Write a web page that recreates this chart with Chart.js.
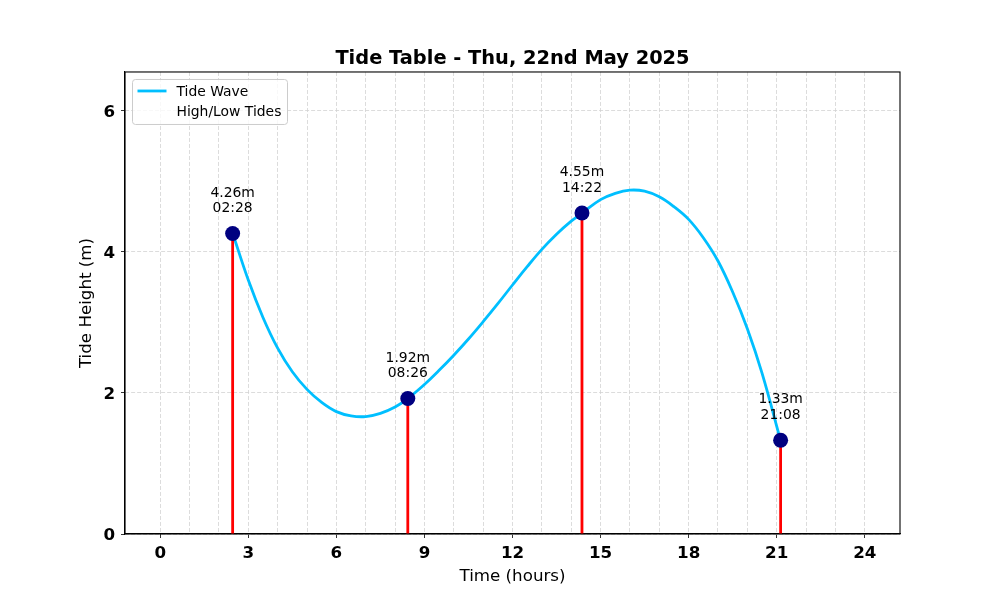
<!DOCTYPE html>
<html>
<head>
<meta charset="utf-8">
<script src="https://cdn.jsdelivr.net/npm/chart.js@4.4.0/dist/chart.umd.min.js"></script>
<style>
    html, body { margin: 0; padding: 0; background: #fff; }
</style>
</head>
<body>
<canvas id="tideChart" width="1000" height="600"></canvas>
<script>
const chartTitle = 'Tide Table - Thu, 22nd May 2025';

// High / low tides
const tideTimes = ['02:28', '08:26', '14:22', '21:08'];
const tideHeights = [4.26, 1.92, 4.55, 1.33];

// Tide wave
const waveHours = [2.47, 3, 3.5, 4, 4.5, 5, 5.5, 6, 6.5, 7, 7.5, 8, 8.43, 9, 9.5, 10, 10.5, 11, 11.5, 12, 12.5, 13, 13.5, 14, 14.37, 15, 15.5, 16, 16.5, 17, 17.5, 18, 18.5, 19, 19.5, 20, 20.5, 21.13];
const waveHeights = [4.26, 3.60, 3.07, 2.635, 2.30, 2.05, 1.865, 1.735, 1.675, 1.665, 1.71, 1.80, 1.92, 2.12, 2.32, 2.535, 2.765, 3.01, 3.265, 3.53, 3.79, 4.035, 4.25, 4.435, 4.55, 4.74, 4.83, 4.875, 4.86, 4.78, 4.64, 4.46, 4.20, 3.87, 3.43, 2.91, 2.28, 1.33];

// Axes
const hourTicks = [0, 1, 2, 3, 4, 5, 6, 7, 8, 9, 10, 11, 12, 13, 14, 15, 16, 17, 18, 19, 20, 21, 22, 23, 24];
const xTickLabels = [0, 3, 6, 9, 12, 15, 18, 21, 24];
const yTickLabels = [0, 2, 4, 6];

const FONT = "'DejaVu Sans', 'Liberation Sans', sans-serif";
const GRID = '#d3d3d3';

const tideHours = tideTimes.map(t => {
    const [h, m] = t.split(':').map(Number);
    return h + m / 60;
});

// box round the plot area
const framePlugin = {
    id: 'frame',
    afterDraw(chart) {
        const { ctx, chartArea: a } = chart;
        ctx.save();
        ctx.strokeStyle = '#000';
        ctx.lineWidth = 1.1;
        ctx.strokeRect(a.left, a.top, a.right - a.left, a.bottom - a.top);
        ctx.restore();
    }
};

// height / time labels above each tide point
const tideLabelPlugin = {
    id: 'tideLabels',
    afterDatasetsDraw(chart) {
        const { ctx } = chart;
        const meta = chart.getDatasetMeta(0);
        ctx.save();
        ctx.fillStyle = '#000';
        ctx.font = '13.9px ' + FONT;
        ctx.textAlign = 'center';
        ctx.textBaseline = 'middle';
        meta.data.forEach((pt, i) => {
            ctx.fillText(tideHeights[i].toFixed(2) + 'm', pt.x, pt.y - 40.5);
            ctx.fillText(tideTimes[i], pt.x, pt.y - 25);
        });
        ctx.restore();
    }
};

// legend box in the upper left corner
const legendPlugin = {
    id: 'boxLegend',
    afterDraw(chart) {
        const { ctx, chartArea: a } = chart;
        const x = a.left + 7.5, y = a.top + 7.5, w = 155, h = 45;
        ctx.save();
        ctx.beginPath();
        ctx.roundRect(x, y, w, h, 3);
        ctx.fillStyle = 'rgba(255,255,255,0.8)';
        ctx.fill();
        ctx.strokeStyle = '#cccccc';
        ctx.lineWidth = 1;
        ctx.stroke();

        ctx.beginPath();
        ctx.moveTo(x + 5, y + 11.5);
        ctx.lineTo(x + 34, y + 11.5);
        ctx.strokeStyle = '#00BFFF';
        ctx.lineWidth = 2.8;
        ctx.stroke();

        ctx.fillStyle = '#000';
        ctx.font = '13.9px ' + FONT;
        ctx.textBaseline = 'middle';
        ctx.fillText('Tide Wave', x + 44, y + 13);
        ctx.fillText('High/Low Tides', x + 44, y + 33);
        ctx.restore();
    }
};

const stemSets = tideHours.map((h, i) => ({
    label: 'stem' + i,
    data: [{ x: h, y: 0 }, { x: h, y: tideHeights[i] }],
    borderColor: '#ff0000',
    borderWidth: 2.8,
    pointRadius: 0,
    order: 1
}));

new Chart(document.getElementById('tideChart'), {
    type: 'line',
    data: {
        datasets: [
            {
                label: 'High/Low Tides',
                data: tideHours.map((h, i) => ({ x: h, y: tideHeights[i] })),
                showLine: false,
                pointRadius: 7.5,
                pointBackgroundColor: '#000080',
                pointBorderColor: '#000080',
                pointBorderWidth: 0,
                order: 0
            },
            ...stemSets,
            {
                label: 'Tide Wave',
                data: waveHours.map((h, i) => ({ x: h, y: waveHeights[i] })),
                borderColor: '#00BFFF',
                borderWidth: 2.8,
                pointRadius: 0,
                tension: 0.4,
                order: 2
            }
        ]
    },
    options: {
        responsive: false,
        animation: false,
        devicePixelRatio: 1,
        layout: {
            padding: { left: 62, right: 100, top: 0, bottom: 0 }
        },
        plugins: {
            legend: { display: false },
            tooltip: { enabled: false },
            title: {
                display: true,
                text: chartTitle,
                fullSize: false,
                color: '#000',
                font: { family: FONT, size: 19.4, weight: 'bold' },
                padding: { top: 47.5, bottom: 1.2 }
            }
        },
        scales: {
            x: {
                type: 'linear',
                min: -1.2,
                max: 25.2,
                afterFit: s => { s.height = 66; },
                afterBuildTicks: s => { s.ticks = hourTicks.map(v => ({ value: v })); },
                grid: {
                    color: GRID,
                    lineWidth: 0.8,
                    tickLength: 4,
                    tickColor: c => (c.tick && xTickLabels.includes(c.tick.value)) ? '#000' : 'rgba(0,0,0,0)'
                },
                border: { display: true, color: '#000', width: 1.1, dash: [4, 2] },
                ticks: {
                    autoSkip: false,
                    maxRotation: 0,
                    padding: 6,
                    color: '#000',
                    font: { family: FONT, size: 16.7, weight: 'bold' },
                    callback: v => xTickLabels.includes(v) ? String(v) : ''
                },
                title: {
                    display: true,
                    text: 'Time (hours)',
                    color: '#000',
                    font: { family: FONT, size: 16.7 },
                    padding: { top: 0, bottom: 13 }
                }
            },
            y: {
                min: 0,
                max: 6.55,
                afterFit: s => { s.width = 63; },
                afterBuildTicks: s => { s.ticks = yTickLabels.map(v => ({ value: v })); },
                grid: {
                    color: GRID,
                    lineWidth: 0.8,
                    tickLength: 4,
                    tickColor: '#000'
                },
                border: { display: true, color: '#000', width: 1.1, dash: [4, 2] },
                ticks: {
                    padding: 6,
                    labelOffset: 2,
                    color: '#000',
                    font: { family: FONT, size: 16.7, weight: 'bold' }
                },
                title: {
                    display: true,
                    text: 'Tide Height (m)',
                    color: '#000',
                    font: { family: FONT, size: 16.7 },
                    padding: { top: 15, bottom: 0 }
                }
            }
        }
    },
    plugins: [framePlugin, tideLabelPlugin, legendPlugin]
});
</script>
</body>
</html>
